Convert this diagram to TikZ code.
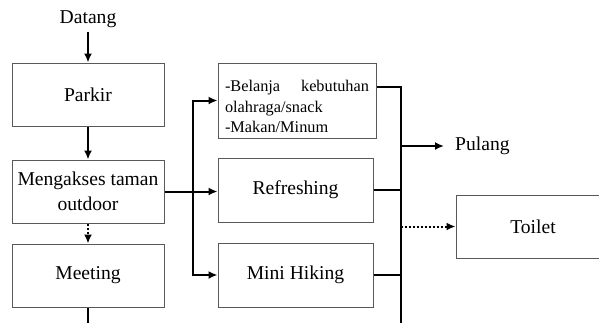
\documentclass[tikz,border=0pt]{standalone}
\usepackage{fontspec}
\setmainfont{Liberation Serif}
\usetikzlibrary{arrows.meta,positioning,calc}

\begin{document}
\begin{tikzpicture}[
    x=1pt, y=-1pt,
    font=\rmfamily\fontsize{19.6}{25}\selectfont,
    >={Latex[length=9pt,width=8pt]},
    box/.style={rectangle, draw=black!65, line width=1pt, align=center, inner sep=0pt, minimum width=152pt, minimum height=63pt},
    actbox/.style={box, minimum width=155pt, minimum height=64pt},
    flow/.style={line width=2pt},
    dotflow/.style={flow, dash pattern=on 2.2pt off 1.8pt}
]
\clip (0,0) rectangle (599,322);

% Visitor flow (left column)
\node[box] (parkir) at (88,94.5) {Parkir};
\node[above=31pt of parkir] (datang) {Datang};
\node[box, below=33pt of parkir] (mengakses) {Mengakses taman\\outdoor};
\node[box, below=20pt of mengakses] (meeting) {Meeting};

% Activities (middle column)
\node[box, minimum width=158pt, minimum height=75pt, text width=144pt, align=left,
      font=\rmfamily\fontsize{16.3}{20.5}\selectfont] (belanja) at (297,100.5)
      {\rule{0pt}{23.5pt}-Belanja\hfill kebutuhan\\olahraga/snack\\-Makan/Minum};
\node[actbox, below=19pt of belanja.south west, anchor=north west] (refreshing) {Refreshing};
\node[actbox, below=20pt of refreshing] (hiking) {Mini Hiking};

% Exits (right column)
\node[anchor=west, inner sep=0pt] (pulang) at (455,146) {Pulang};
\node[box, minimum width=154pt] (toilet) at (533,226.5) {Toilet};

% Helper points
\coordinate (split) at ($(mengakses.east)!0.54!(refreshing.west)$);
\coordinate (merge) at ([xshift=24pt,yshift=13.5pt]belanja.east);
\coordinate (edge) at (0,326);

% Connections
\draw[flow, ->] (datang) -- (parkir);
\draw[flow, ->] (parkir) -- (mengakses);
\draw[dotflow, ->] (mengakses) -- (meeting);
\draw[flow] (meeting.south) -- (meeting.south |- edge);

\draw[flow, ->] (mengakses.east) -- (mengakses.east -| refreshing.west);
\draw[flow, ->] (split |- mengakses.east) |- (belanja.west);
\draw[flow, ->] (split |- mengakses.east) |- (hiking.west);

\draw[flow] ([yshift=13.5pt]belanja.east) -- (merge) -- (merge |- edge);
\draw[flow] (refreshing.east) -- (refreshing.east -| merge);
\draw[flow] (hiking.east) -- (hiking.east -| merge);
\draw[flow, ->] (merge |- pulang) -- ([xshift=-11pt]pulang.west);
\draw[dotflow, ->] (merge |- toilet) -- (toilet);

\end{tikzpicture}
\end{document}
